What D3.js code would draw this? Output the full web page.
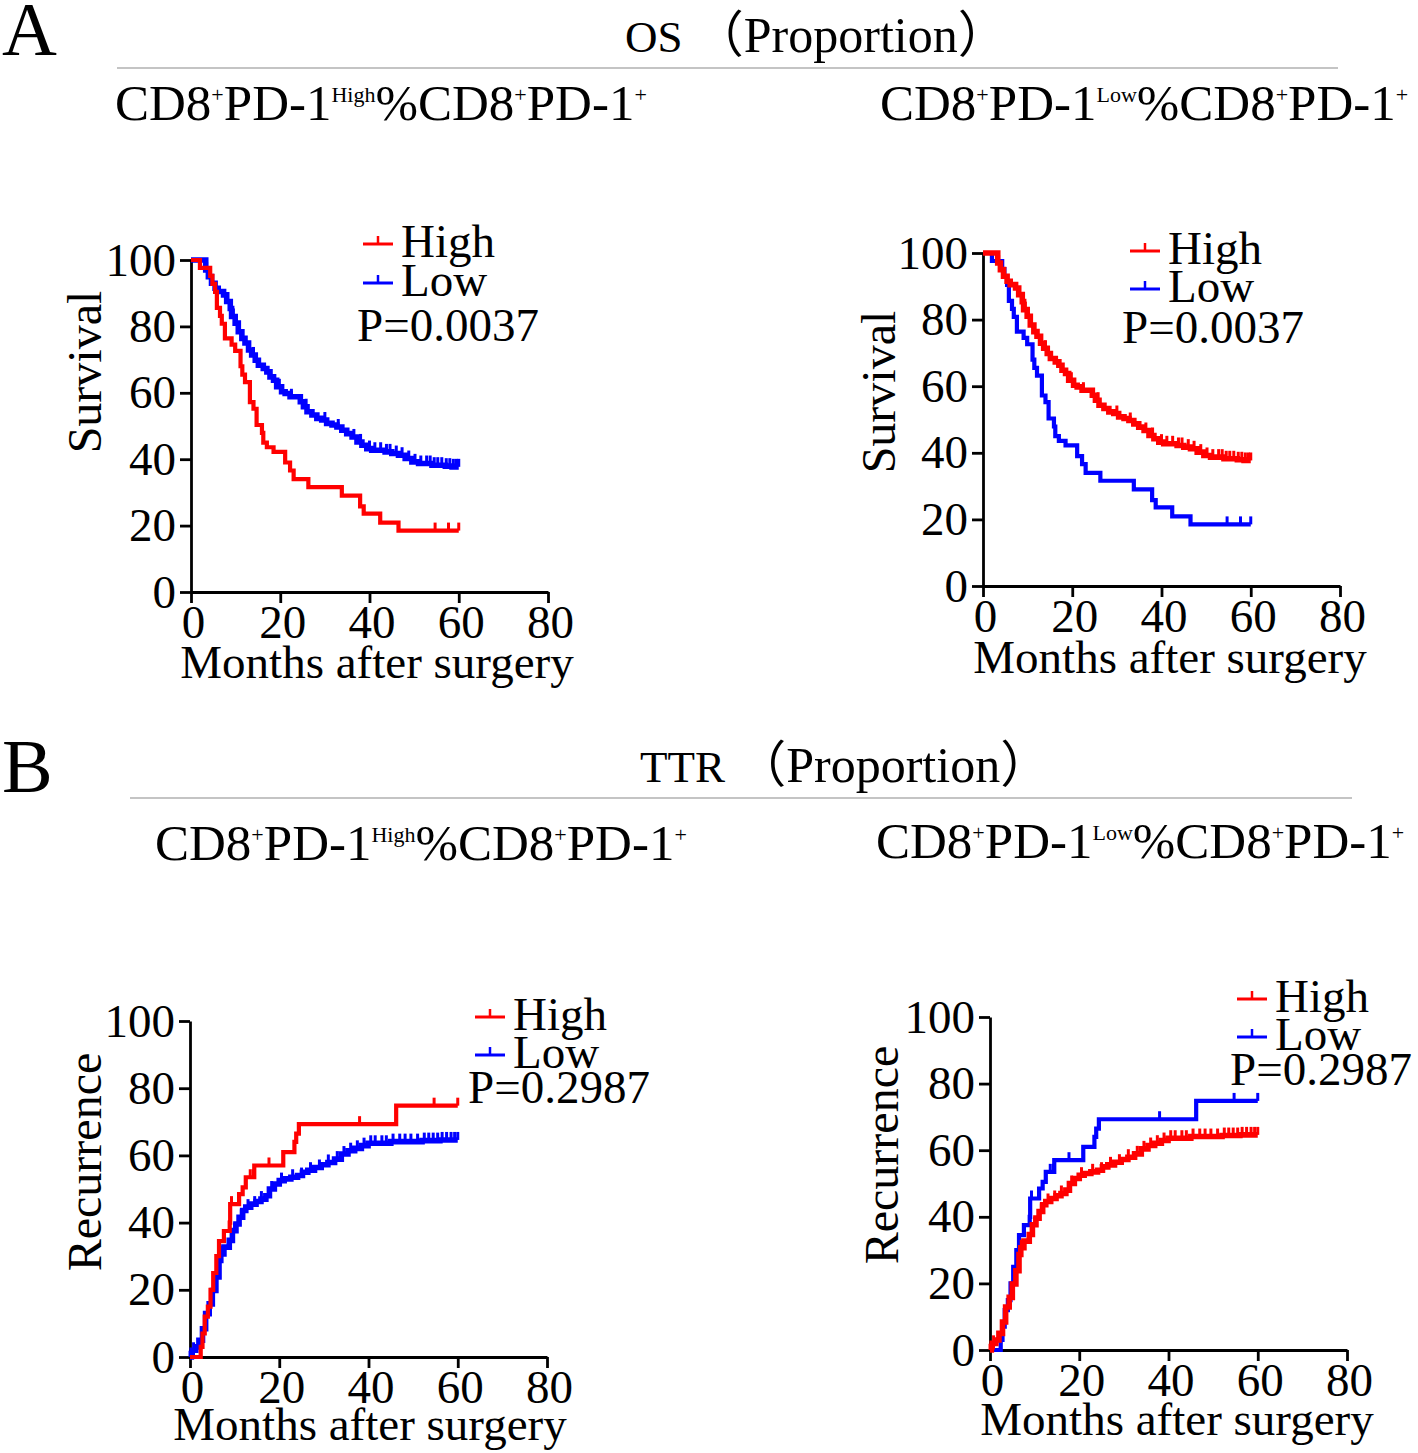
<!DOCTYPE html>
<html>
<head>
<meta charset="utf-8">
<script src="https://cdn.jsdelivr.net/npm/d3@7"></script>
<style>
  body { margin: 0; background: #fff; }
  svg { display: block; }
  text { font-family: "Liberation Serif", "Times New Roman", "Noto Sans CJK SC", serif; fill: #000; }
  .axis path, .axis line { stroke: #000; stroke-width: 2.8px; }
  .axis text { font-size: 47px; font-family: "Liberation Serif", serif; }
  .km { fill: none; stroke-linejoin: miter; }
  .cens { stroke-width: 3px; }
</style>
</head>
<body>
<svg id="chart" width="1418" height="1453"></svg>
<script>
// ticks
const xTicks = [0, 20, 40, 60, 80];
const yTicks = [0, 20, 40, 60, 80, 100];

// OS, small group (worse survival) [month, %]
const osSmall = [[0,100],[2.0,97.6],[4.3,95.2],[4.8,92.8],[5.4,90.4],[5.8,85.6],[6.5,83.2],[6.9,80.8],
  [7.6,76.4],[9.1,74.5],[9.9,72.6],[11.1,68],[11.5,65.5],[12.1,63.2],[13.2,57.2],[14.0,55.2],[14.7,50.3],
  [15.9,47.9],[16.2,45.0],[17.0,43.6],[18.5,42.2],[21.1,39.0],[22.2,36.6],[23.0,34.0],[26.3,31.6],
  [33.8,29.0],[37.9,25.8],[38.7,23.6],[42.4,20.9],[46.5,18.5],[60,18.5]];
const osSmallCens = [54.7, 57.7, 60];

// OS, large group (better survival)
const osLarge = [[0,100],[3.3,97],[3.9,95],[4.6,93],[5.4,91.5],[6.1,90.5],[7.3,89.5],[8.0,87.5],[8.8,85.4],
  [9.1,83],[9.9,81],[10.6,78.4],[11.4,76.4],[12.1,75],[12.9,72.9],[13.6,71.4],[14.4,69.8],[15.1,68.3],
  [16.2,67.3],[17.0,66.3],[17.7,64.8],[18.5,63.8],[19.2,61.8],[20.3,60.3],[21.1,59.8],[22.2,58.8],
  [24.5,57.3],[25.2,55.8],[26.0,54.3],[27.1,53.3],[28.2,52.3],[29.3,51.8],[30.4,50.8],[31.6,50.3],
  [32.7,49.7],[33.8,48.7],[34.9,47.7],[36.1,46.7],[37.2,45.2],[38.3,44.2],[39.4,43.2],[40.5,42.7],
  [43.5,42.2],[45.0,41.7],[46.5,41.2],[48.0,40.2],[49.5,39.2],[51.0,38.7],[54.0,38.2],[57.0,37.9],
  [58.5,37.7],[60,37.7]];
const osLargeCens = [3.5, 9.5, 14, 19.8, 22.5, 25.8, 30, 33, 36.5, 38, 40, 41.2, 42.5, 43.8, 44.6, 46,
  47.3, 48.8, 50.2, 51.5, 52.8, 53.6, 54.5, 55.3, 56.2, 57.2, 58, 58.8, 59.5, 60];

// TTR, small group (more recurrence)
const ttrSmall = [[0,0],[2.4,3],[2.8,7],[3.3,12],[4.0,15],[4.6,20],[5.2,25],[5.9,30],[6.5,34.5],
  [7.6,37.5],[8.9,40],[9.0,45.5],[11.0,48.5],[11.8,50.5],[12.5,53.5],[14.4,57],[20.9,61],[23.4,64],
  [23.8,66.5],[24.4,69.3],[46.2,74.8],[60,74.8]];
const ttrSmallCens = [9.3, 13.5, 14.2, 17.7, 38, 54.7, 60];

// TTR, large group
const ttrLarge = [[0,0],[0.3,1],[0.5,2],[1.3,3],[2.0,5],[2.8,8.4],[3.5,12.9],[4.3,15.8],[5.0,19.8],
  [5.8,23.8],[6.5,28.7],[6.9,30.7],[7.6,32.7],[8.8,34.7],[9.5,37.6],[10.3,39.6],[11.0,41.6],[11.8,43.6],
  [12.5,44.6],[13.6,45.5],[14.8,46.3],[15.9,47],[17.0,48],[17.8,50],[18.9,51.5],[20.0,52.5],[21.1,53],
  [22.6,53.5],[24.1,54],[25.2,55],[26.4,55.6],[27.9,56.4],[29.4,57.2],[30.9,57.9],[32.4,58.9],
  [33.9,60.4],[35.4,61.4],[36.9,62.1],[38.4,62.9],[39.9,63.6],[45.0,64.1],[52.0,64.4],[56.0,64.6],[60,64.6]];
const ttrLargeCens = [0.8, 7, 10, 11.5, 13, 14.5, 16, 18.3, 20.5, 23, 25, 27, 29, 31, 33, 34.5, 36,
  37.5, 39, 40.5, 41.5, 43, 44, 45.5, 47, 48.2, 49.5, 51, 52.5, 53.5, 54.5, 55.5, 56.5, 57.5, 58.5, 59.3, 60];

const groups = ['High', 'Low'];
const pValues = ['P=0.0037', 'P=0.2987'];

const RED = '#ff0000', BLUE = '#0000ff';
const svg = d3.select('#chart');
svg.append('rect').attr('width', 1418).attr('height', 1453).attr('fill', '#fff');

// text with superscripts: segs = [[text, isSup], ...]
function richText(x, y, segs, size, supSize) {
  const t = svg.append('text').attr('x', x).attr('y', y).attr('font-size', size);
  let up = false;
  segs.forEach(([s, sup]) => {
    const ts = t.append('tspan').text(s);
    if (sup && !up) { ts.attr('dy', -size * 0.36).attr('font-size', supSize); up = true; }
    else if (!sup && up) { ts.attr('dy', size * 0.36); up = false; }
  });
  return t;
}

function subtitle(x, y, kind) {
  richText(x, y, [['CD8', 0], ['+', 1], ['PD-1', 0], [kind, 1], ['%CD8', 0], ['+', 1], ['PD-1', 0], ['+', 1]], 51, 22);
}

function header(x, y, label) {
  const t = svg.append('text').attr('x', x).attr('y', y).attr('font-size', 45);
  t.append('tspan').text(label + ' ');
  t.append('tspan').attr('font-size', 50).text('（Proportion）');
}

// section headers
svg.append('text').attr('x', 2).attr('y', 55).attr('font-size', 76).text('A');
svg.append('text').attr('x', 2).attr('y', 792).attr('font-size', 76).text('B');
header(625, 52, 'OS');
header(640, 782, 'TTR');
svg.append('line').attr('x1', 117).attr('x2', 1338).attr('y1', 68).attr('y2', 68).attr('stroke', '#c4c4c4').attr('stroke-width', 2);
svg.append('line').attr('x1', 130).attr('x2', 1352).attr('y1', 798).attr('y2', 798).attr('stroke', '#c4c4c4').attr('stroke-width', 2);

subtitle(115, 120, 'High');
subtitle(880, 120, 'Low');
subtitle(155, 860, 'High');
subtitle(876, 858, 'Low');

// [points, censored times, stroke width]
const OS_S = [osSmall, osSmallCens, 4.2], OS_L = [osLarge, osLargeCens, 5.6];
const TTR_S = [ttrSmall, ttrSmallCens, 4.2], TTR_L = [ttrLarge, ttrLargeCens, 5.6];

const panels = [
  { x0: 191, x1: 548, yTop: 260, yBot: 592, red: OS_S, blue: OS_L,
    yTitle: 'Survival', ytx: 101, yty: 372, xtx: 377, xty: 678,
    lx: 363, lHigh: 257, lLow: 296, px: 357, py: 341, p: pValues[0] },
  { x0: 983, x1: 1340, yTop: 253, yBot: 586, red: OS_L, blue: OS_S,
    yTitle: 'Survival', ytx: 895, yty: 392, xtx: 1170, xty: 673,
    lx: 1130, lHigh: 264, lLow: 302, px: 1122, py: 343, p: pValues[0] },
  { x0: 190, x1: 547, yTop: 1021, yBot: 1357, red: TTR_S, blue: TTR_L,
    yTitle: 'Recurrence', ytx: 101, yty: 1162, xtx: 370, xty: 1440,
    lx: 475, lHigh: 1030, lLow: 1068, px: 468, py: 1103, p: pValues[1] },
  { x0: 990, x1: 1347, yTop: 1017, yBot: 1350, red: TTR_L, blue: TTR_S,
    yTitle: 'Recurrence', ytx: 898, yty: 1155, xtx: 1177, xty: 1435,
    lx: 1237, lHigh: 1012, lLow: 1050, px: 1230, py: 1085, p: pValues[1] }
];

panels.forEach(p => {
  const x = d3.scaleLinear().domain([0, 80]).range([p.x0, p.x1]);
  const y = d3.scaleLinear().domain([0, 100]).range([p.yBot, p.yTop]);

  svg.append('g').attr('class', 'axis')
    .attr('transform', `translate(0,${p.yBot})`)
    .call(d3.axisBottom(x).tickValues(xTicks).tickSize(11).tickSizeOuter(0).tickPadding(2))
    .call(g => g.selectAll('text').attr('dx', 2));
  svg.append('g').attr('class', 'axis')
    .attr('transform', `translate(${p.x0},0)`)
    .call(d3.axisLeft(y).tickValues(yTicks).tickSize(11).tickSizeOuter(0).tickPadding(4));
  svg.selectAll('.axis text').attr('fill', '#000');

  const line = d3.line().x(d => x(d[0])).y(d => y(d[1])).curve(d3.curveStepAfter);
  const bis = d3.bisector(d => d[0]).right;

  [[p.blue, BLUE], [p.red, RED]].forEach(([[pts, cens, sw], col]) => {
    svg.append('path').attr('class', 'km').attr('stroke', col).attr('stroke-width', sw).attr('d', line(pts));
    svg.append('g').selectAll('line').data(cens).join('line')
      .attr('class', 'cens').attr('stroke', col)
      .attr('x1', d => x(d)).attr('x2', d => x(d))
      .attr('y1', d => y(pts[Math.max(0, bis(pts, d) - 1)][1]))
      .attr('y2', d => y(pts[Math.max(0, bis(pts, d) - 1)][1]) - 8);
  });

  // axis titles
  svg.append('text').attr('font-size', 48).attr('text-anchor', 'middle')
    .attr('transform', `translate(${p.ytx},${p.yty}) rotate(-90)`).text(p.yTitle);
  svg.append('text').attr('font-size', 47).attr('text-anchor', 'middle')
    .attr('x', p.xtx).attr('y', p.xty).text('Months after surgery');

  // legend
  [[groups[0], RED, p.lHigh], [groups[1], BLUE, p.lLow]].forEach(([name, col, by]) => {
    const ly = by - 13;
    svg.append('line').attr('x1', p.lx).attr('x2', p.lx + 30).attr('y1', ly).attr('y2', ly)
      .attr('stroke', col).attr('stroke-width', 3);
    svg.append('line').attr('x1', p.lx + 15).attr('x2', p.lx + 15).attr('y1', ly).attr('y2', ly - 8)
      .attr('stroke', col).attr('stroke-width', 2.5);
    svg.append('text').attr('x', p.lx + 38).attr('y', by).attr('font-size', 47).text(name);
  });
  svg.append('text').attr('x', p.px).attr('y', p.py).attr('font-size', 47).text(p.p);
});
</script>
</body>
</html>
